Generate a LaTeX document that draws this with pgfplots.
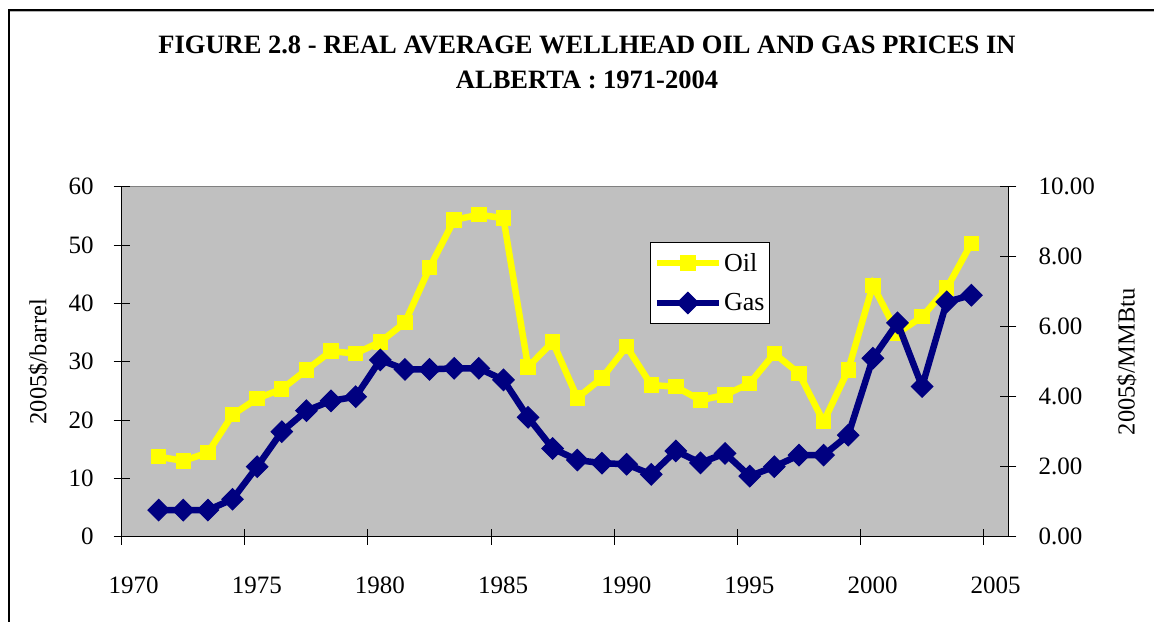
\documentclass[border=0pt]{standalone}
\usepackage{pgfplots}
\pgfplotsset{compat=1.18}
\usepackage{fontspec}
\setmainfont{Liberation Serif}
\definecolor{plotgray}{HTML}{C0C0C0}
\definecolor{oilc}{HTML}{FFFF00}
\definecolor{gasc}{HTML}{000080}
\pgfplotstableread{
year oil
1971.5 13.7
1972.5 13.0
1973.5 14.4
1974.5 20.9
1975.5 23.7
1976.5 25.3
1977.5 28.6
1978.5 31.8
1979.5 31.4
1980.5 33.4
1981.5 36.7
1982.5 46.1
1983.5 54.3
1984.5 55.2
1985.5 54.6
1986.5 29.1
1987.5 33.4
1988.5 23.8
1989.5 27.2
1990.5 32.6
1991.5 26.0
1992.5 25.7
1993.5 23.4
1994.5 24.3
1995.5 26.3
1996.5 31.4
1997.5 28.0
1998.5 19.7
1999.5 28.6
2000.5 43.1
2001.5 34.9
2002.5 37.7
2003.5 42.6
2004.5 50.3
}\oiltable
\pgfplotstableread{
year gas
1971.5 0.76
1972.5 0.76
1973.5 0.76
1974.5 1.07
1975.5 2.00
1976.5 3.00
1977.5 3.60
1978.5 3.88
1979.5 4.00
1980.5 5.05
1981.5 4.78
1982.5 4.78
1983.5 4.81
1984.5 4.81
1985.5 4.48
1986.5 3.41
1987.5 2.52
1988.5 2.19
1989.5 2.10
1990.5 2.07
1991.5 1.78
1992.5 2.45
1993.5 2.11
1994.5 2.38
1995.5 1.73
1996.5 2.00
1997.5 2.33
1998.5 2.33
1999.5 2.90
2000.5 5.10
2001.5 6.11
2002.5 4.29
2003.5 6.71
2004.5 6.90
}\gastable
\begin{document}
\begin{tikzpicture}[x=1bp,y=1bp]
\path[use as bounding box] (0,0) rectangle (1154,622);
% outer frame
\draw[black, line width=1.2bp] (9,0) -- (9,612) -- (1154,612);
\draw[gray!60, line width=1bp] (10,610.5) -- (1154,610.5);
% title
\node[align=center, font=\bfseries\fontsize{26.5bp}{35bp}\selectfont] at (587,622-62) {FIGURE 2.8 - REAL AVERAGE WELLHEAD OIL AND GAS PRICES IN\\ALBERTA : 1971-2004};
\pgfplotsset{
  common/.style={
    at={(121.7bp,85.3bp)}, anchor=south west,
    scale only axis, width=886.6bp, height=350bp,
    xmin=1970, xmax=2006,
    tick align=center, major tick length=16bp,
    every tick/.style={black, line width=1bp},
    axis line style={black, line width=1.2bp},
    font=\fontsize{25bp}{29bp}\selectfont,
    /pgf/number format/assume math mode=true,
    clip=false,
  },
}
\begin{axis}[common,
  axis x line*=bottom, axis y line*=left,
  axis background/.style={fill=plotgray, draw=gray, line width=1.2bp},
  ymin=0, ymax=60, ytick={0,10,...,60},
  xtick={1970,1975,...,2005},
  xticklabel style={anchor=center, yshift=-41bp, xshift=12bp, /pgf/number format/1000 sep={}},
  yticklabel style={anchor=east, inner sep=0pt, xshift=-20bp},
  ylabel={2005\$/barrel},
  ylabel style={at={(axis description cs:-0.094,0.5)}, anchor=center, rotate=0, font=\fontsize{24.5bp}{29bp}\selectfont},
]
\addplot[color=oilc, line width=6.5bp, mark=square*, mark size=7.2bp, mark options={fill=oilc, draw=oilc, line width=1bp}] table[x=year,y=oil] {\oiltable};
\end{axis}
\begin{axis}[common,
  axis x line=none, axis y line*=right,
  ymin=0, ymax=10, ytick={0,2,...,10},
  yticklabel style={anchor=west, inner sep=0pt, xshift=22bp, /pgf/number format/.cd, fixed, fixed zerofill, precision=2},
  ylabel={2005\$/MMBtu},
  ylabel style={at={(axis description cs:1.1335,0.5)}, anchor=center, rotate=0, font=\fontsize{24.5bp}{29bp}\selectfont},
  legend style={at={(rel axis cs:0.596,0.843)}, anchor=north west, draw=black, line width=1bp, fill=white, inner xsep=3bp, inner ysep=9bp, row sep=17bp, font=\fontsize{26bp}{30bp}\selectfont},
  legend cell align=left,
  legend image code/.code={\draw[mark repeat=2, mark phase=2] plot coordinates {(0bp,0bp) (31bp,0bp) (62bp,0bp)};},
]
\addlegendimage{color=oilc, line width=6.5bp, mark=square*, mark size=7.2bp, mark options={fill=oilc, draw=oilc, line width=1bp}}
\addlegendentry{Oil}
\addplot[color=gasc, line width=6.5bp, mark=square*, mark size=7.6bp, mark options={fill=gasc, draw=gasc, line width=1bp, rotate=45}] table[x=year,y=gas] {\gastable};
\addlegendentry{Gas}
\end{axis}
\end{tikzpicture}
\end{document}
